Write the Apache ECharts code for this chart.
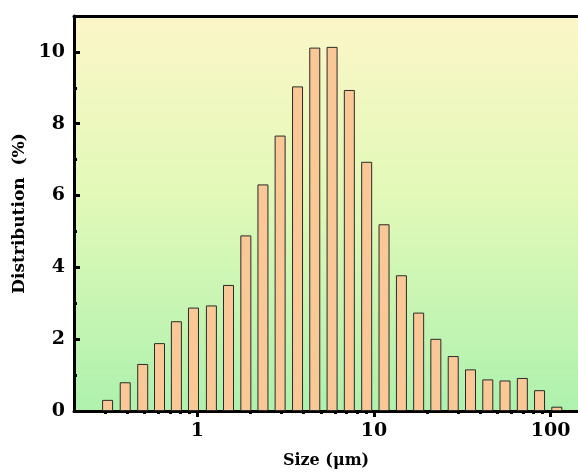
<!DOCTYPE html>
<html>
<head>
<meta charset="utf-8">
<script src="https://cdn.jsdelivr.net/npm/echarts@6/dist/echarts.min.js"></script>
<style>
  html, body { margin: 0; padding: 0; background: #fff; }
  #main { width: 578px; height: 474px; }
</style>
</head>
<body>
<div id="main"></div>
<script>
// particle size bins (um)
var sizes = [0.31, 0.39, 0.49, 0.61, 0.76, 0.95, 1.2, 1.5, 1.88, 2.35, 2.94, 3.69, 4.62, 5.79,
             7.25, 9.09, 11.4, 14.3, 17.9, 22.4, 28.1, 35.2, 44.1, 55.2, 69.2, 86.6, 108.5];
// distribution (%)
var dist = [0.31, 0.80, 1.31, 1.89, 2.50, 2.88, 2.94, 3.51, 4.89, 6.31, 7.67, 9.04, 10.12, 10.14,
            8.94, 6.94, 5.20, 3.78, 2.74, 2.01, 1.53, 1.16, 0.88, 0.85, 0.92, 0.58, 0.12];
var xMajor = [1, 10, 100];
var xMinor = [0.3, 0.4, 0.5, 0.6, 0.7, 0.8, 0.9, 2, 3, 4, 5, 6, 7, 8, 9,
              20, 30, 40, 50, 60, 70, 80, 90];
var yMajor = [0, 2, 4, 6, 8, 10];
var yMinor = [1, 3, 5, 7, 9];

var font = 'DejaVu Serif';
var xMin = 0.2, xMax = 143;
var myChart = echarts.init(document.getElementById('main'));

var data = [];
for (var i in sizes) {
    data.push([sizes[i], dist[i]]);
}

var bgGrad = new echarts.graphic.LinearGradient(0, 0, 0, 1, [
    { offset: 0, color: '#fcf6c8' },
    { offset: 0.45, color: '#e2f9b8' },
    { offset: 1, color: '#aef1ae' }
]);

var option = {
    animation: false,
    grid: {
        left: 74, top: 16, right: 0, bottom: 61,
        show: true,
        backgroundColor: bgGrad,
        borderWidth: 0
    },
    xAxis: [
        {
            type: 'log',
            min: xMin,
            max: xMax,
            position: 'bottom',
            name: 'Size (μm)',
            nameLocation: 'middle',
            nameGap: 42,
            nameTextStyle: { fontFamily: font, fontWeight: 'bold', fontSize: 16, color: '#000' },
            axisLine: { lineStyle: { color: '#000', width: 3 } },
            axisTick: { customValues: xMajor, length: 6, lineStyle: { color: '#000', width: 3 } },
            axisLabel: { customValues: xMajor, margin: 11, fontFamily: font, fontWeight: 'bold', fontSize: 19, color: '#000' },
            splitLine: { show: false }
        },
        {
            type: 'log',
            min: xMin,
            max: xMax,
            position: 'bottom',
            axisLine: { show: false },
            axisTick: { customValues: xMinor, length: 3, lineStyle: { color: '#000', width: 3 } },
            axisLabel: { show: false },
            splitLine: { show: false }
        },
        {
            // top frame line only
            type: 'log',
            min: xMin,
            max: xMax,
            position: 'top',
            axisLine: { lineStyle: { color: '#000', width: 3 } },
            axisTick: { show: false },
            axisLabel: { show: false },
            splitLine: { show: false }
        }
    ],
    yAxis: [
        {
            type: 'value',
            min: 0,
            max: 11,
            name: 'Distribution  (%)',
            nameLocation: 'middle',
            nameGap: 41,
            nameTextStyle: { fontFamily: font, fontWeight: 'bold', fontSize: 17, color: '#000' },
            axisLine: { show: true, lineStyle: { color: '#000', width: 3 } },
            axisTick: { inside: true, customValues: yMajor, length: 6, lineStyle: { color: '#000', width: 3 } },
            axisLabel: { customValues: yMajor, margin: 9, fontFamily: font, fontWeight: 'bold', fontSize: 19, color: '#000' },
            splitLine: { show: false }
        },
        {
            type: 'value',
            min: 0,
            max: 11,
            position: 'left',
            axisLine: { show: false },
            axisTick: { show: true, inside: true, customValues: yMinor, length: 3, lineStyle: { color: '#000', width: 3 } },
            axisLabel: { show: false },
            splitLine: { show: false }
        }
    ],
    series: [
        {
            type: 'bar',
            xAxisIndex: 0,
            yAxisIndex: 0,
            barWidth: 11,
            data: data,
            itemStyle: {
                color: '#fac896',
                borderColor: '#2a2a2a',
                borderWidth: 1
            }
        }
    ]
};
myChart.setOption(option);
</script>
</body>
</html>
